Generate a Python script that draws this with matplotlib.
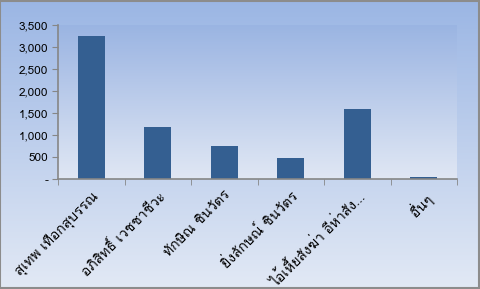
import numpy as np
import matplotlib
matplotlib.use("Agg")
import matplotlib.pyplot as plt
from matplotlib import font_manager
from matplotlib.ft2font import FT2Font

names = ["สุเทพ เทือกสุบรรณ", "อภิสิทธิ์ เวชชาชีวะ", "ทักษิณ ชินวัตร",
         "ยิ่งลักษณ์ ชินวัตร", "ไอ้เหี้ยสังฆ่า อีห่าสัง…", "อื่นๆ"]
votes = [3250, 1190, 750, 480, 1600, 50]
yticks = [0, 500, 1000, 1500, 2000, 2500, 3000, 3500]
ylabels = ["-", "500", "1,000", "1,500", "2,000", "2,500", "3,000", "3,500"]


def find_thai_font():
    # look for any installed font that can draw Thai
    for f in font_manager.fontManager.ttflist:
        try:
            cmap = FT2Font(f.fname).get_charmap()
        except Exception:
            continue
        if 0x0E01 in cmap and 0x0E40 in cmap and 0x0E34 in cmap:
            return f.name
    return "DejaVu Sans"


thai = find_thai_font()
plt.rcParams['font.family'] = [thai, 'DejaVu Sans']

fig = plt.figure(figsize=(4.8, 2.89), dpi=100)

# background gradient for whole chart
bg = fig.add_axes([0, 0, 1, 1], zorder=-10)
top_c = np.array([0x9b, 0xb6, 0xe4]) / 255
bot_c = np.array([0xe2, 0xe9, 0xf5]) / 255
t = np.linspace(0, 1, 256)[:, None]
grad = top_c * (1 - t)[:, :, None] + bot_c * t[:, :, None]
bg.imshow(grad, aspect='auto', extent=[0, 1, 0, 1])
bg.set_xlim(0, 1)
bg.set_ylim(0, 1)
bg.axis('off')
bg.add_patch(plt.Rectangle((0.001, 0.002), 0.997, 0.995, fill=False,
                           edgecolor='#8c8c8c', lw=1.5))

ax = fig.add_axes([58 / 480, 1 - 179.3 / 289, 399 / 480, 154.3 / 289])
ax.patch.set_alpha(0)
top_p = np.array([0x9a, 0xb4, 0xe2]) / 255
bot_p = np.array([0xe0, 0xe7, 0xf4]) / 255
gp = top_p * (1 - t)[:, :, None] + bot_p * t[:, :, None]
ax.imshow(gp, aspect='auto', extent=[0, 1, 0, 1], transform=ax.transAxes, zorder=0)

x = np.arange(len(names))
ax.bar(x, votes, width=0.41, color='#345f91', zorder=2)

ax.set_xlim(-0.5, len(names) - 0.5)
ax.set_ylim(0, 3500)
ax.set_yticks(yticks)
ax.set_yticklabels(ylabels, fontsize=8.5)
ax.set_xticks(x)
ax.set_xticklabels(names, rotation=45, ha='right', rotation_mode='anchor', fontsize=10)
ax.set_xticks(np.arange(-0.5, len(names)), minor=True)
ax.tick_params(axis='x', which='major', length=0, pad=7)
ax.tick_params(axis='x', which='minor', length=4, color='#868686', direction='out')
ax.tick_params(axis='y', length=4, color='#868686', direction='out', pad=3)

for s in ['top', 'right']:
    ax.spines[s].set_visible(False)
for s in ['left', 'bottom']:
    ax.spines[s].set_color('#868686')
    ax.spines[s].set_linewidth(1.2)

fig.savefig("out.png", dpi=100)
